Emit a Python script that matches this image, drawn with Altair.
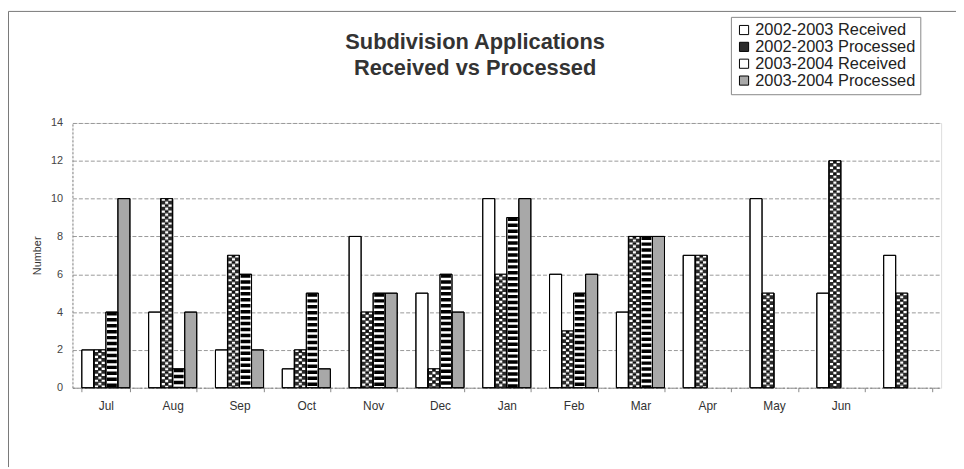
import altair as alt
import pandas as pd

months = ["Jul", "Aug", "Sep", "Oct", "Nov", "Dec", "Jan", "Feb", "Mar", "Apr", "May", "Jun", " "]
series = ["2002-2003 Received", "2002-2003 Processed", "2003-2004 Received", "2003-2004 Processed"]
rec_0203 = [2, 4, 2, 1, 8, 5, 10, 6, 4, 7, 10, 5, 7]
proc_0203 = [2, 10, 7, 2, 4, 1, 6, 3, 8, 7, 5, 12, 5]
rec_0304 = [4, 1, 6, 5, 5, 6, 9, 5, 8, None, None, None, None]
proc_0304 = [10, 4, 2, 1, 5, 4, 10, 6, 8, None, None, None, None]
y_ticks = [0, 2, 4, 6, 8, 10, 12, 14]
title_line1 = "Subdivision Applications"
title_line2 = "Received vs Processed"

rows = []
for s, vals in zip(series, [rec_0203, proc_0203, rec_0304, proc_0304]):
    for m, v in zip(months, vals):
        if v is not None:
            rows.append({"month": m, "series": s, "value": v})
df = pd.DataFrame(rows)

FONT = "Liberation Sans"

x = alt.X("month:N", sort=months,
          scale=alt.Scale(domain=months, paddingInner=0.28, paddingOuter=0.14),
          axis=alt.Axis(title=None, labelAngle=0, labelFontSize=12, labelColor="#333",
                        labelFont=FONT, labelPadding=9, tickBand="extent", tickSize=4,
                        tickColor="#888", domainColor="#888", domainDash=[2, 2], grid=False))
xo = alt.XOffset("series:N", sort=series,
                 scale=alt.Scale(domain=series, paddingInner=0, paddingOuter=0))
y = alt.Y("value:Q", scale=alt.Scale(domain=[0, 14]),
          axis=alt.Axis(values=y_ticks, title="Number", titleFontSize=11, titleFont=FONT,
                        titleFontWeight="normal", titleColor="#333", titlePadding=8,
                        labelFontSize=11, labelFont=FONT, labelColor="#444", labelPadding=10,
                        ticks=False, grid=True, gridColor="#999", gridDash=[4, 2],
                        domainColor="#888", domainDash=[2, 2]))
y0 = alt.Y2(datum=0)

base = alt.Chart(df)

leg = alt.Legend(title=None, orient="none", legendX=664, legendY=-107, strokeColor="#888",
                 padding=5, labelFontSize=16.5, labelFont=FONT, labelColor="#222",
                 symbolType="square", symbolSize=85, symbolStrokeColor="black",
                 symbolStrokeWidth=1, rowPadding=-1, labelOffset=3, labelLimit=300)

bars = base.mark_bar(stroke="black", strokeWidth=1).encode(
    x=x, xOffset=xo, y=y,
    fill=alt.Fill("series:N", scale=alt.Scale(domain=series, range=["white", "#2a2a2a", "white", "#a8a8a8"]),
                  legend=leg),
)

stripe = base.transform_filter(alt.datum.series == series[2]).mark_rule(
    stroke="black", strokeWidth=10, strokeDash=[3.5, 2.5]).encode(x=x, xOffset=xo, y=y, y2=y0)

chk_a = base.transform_filter(alt.datum.series == series[1]).mark_rule(
    stroke="white", strokeWidth=10, strokeDash=[2.2, 3.8]).encode(x=x, xOffset=xo, y=y, y2=y0)
chk_b = base.transform_filter(alt.datum.series == series[1]).mark_rule(
    stroke="#111", strokeWidth=3.6, strokeDash=[2.2, 3.8]).encode(x=x, xOffset=xo, y=y, y2=y0)
chk_c = base.transform_filter(alt.datum.series == series[1]).mark_rule(
    stroke="white", strokeWidth=3, strokeDash=[2.2, 3.8], strokeDashOffset=3).encode(
    x=x, xOffset=xo, y=y, y2=y0)

outline = base.mark_bar(stroke="black", strokeWidth=1, fillOpacity=0).encode(x=x, xOffset=xo, y=y)

one = alt.Data(values=[{"k": 1}])
t1 = alt.Chart(one).mark_text(
    text=title_line1, font=FONT, fontSize=22, fontWeight="bold", color="#333",
    baseline="middle", align="center").encode(x=alt.value(406), y=alt.value(-82))
t2 = alt.Chart(one).mark_text(
    text=title_line2, font=FONT, fontSize=22, fontWeight="bold", color="#333",
    baseline="middle", align="center").encode(x=alt.value(406), y=alt.value(-55))

frame_top = alt.Chart(one).mark_rule(stroke="#777", strokeWidth=1).encode(
    x=alt.value(-64.5), x2=alt.value(891), y=alt.value(-112.5))
frame_left = alt.Chart(one).mark_rule(stroke="#777", strokeWidth=1).encode(
    x=alt.value(-64.5), y=alt.value(-112.5), y2=alt.value(347))

chart = alt.layer(
    frame_top, frame_left, bars, stripe, chk_a, chk_b, chk_c, outline, t1, t2
).properties(
    width=876, height=267,
    padding={"left": 65, "top": 114, "right": 15, "bottom": 80},
    autosize=alt.AutoSizeParams(type="none"),
).configure_view(stroke="#999", strokeDash=[2, 2]).configure(background="white")

chart.save("out.html", embed_options={"renderer": "svg", "actions": False})
